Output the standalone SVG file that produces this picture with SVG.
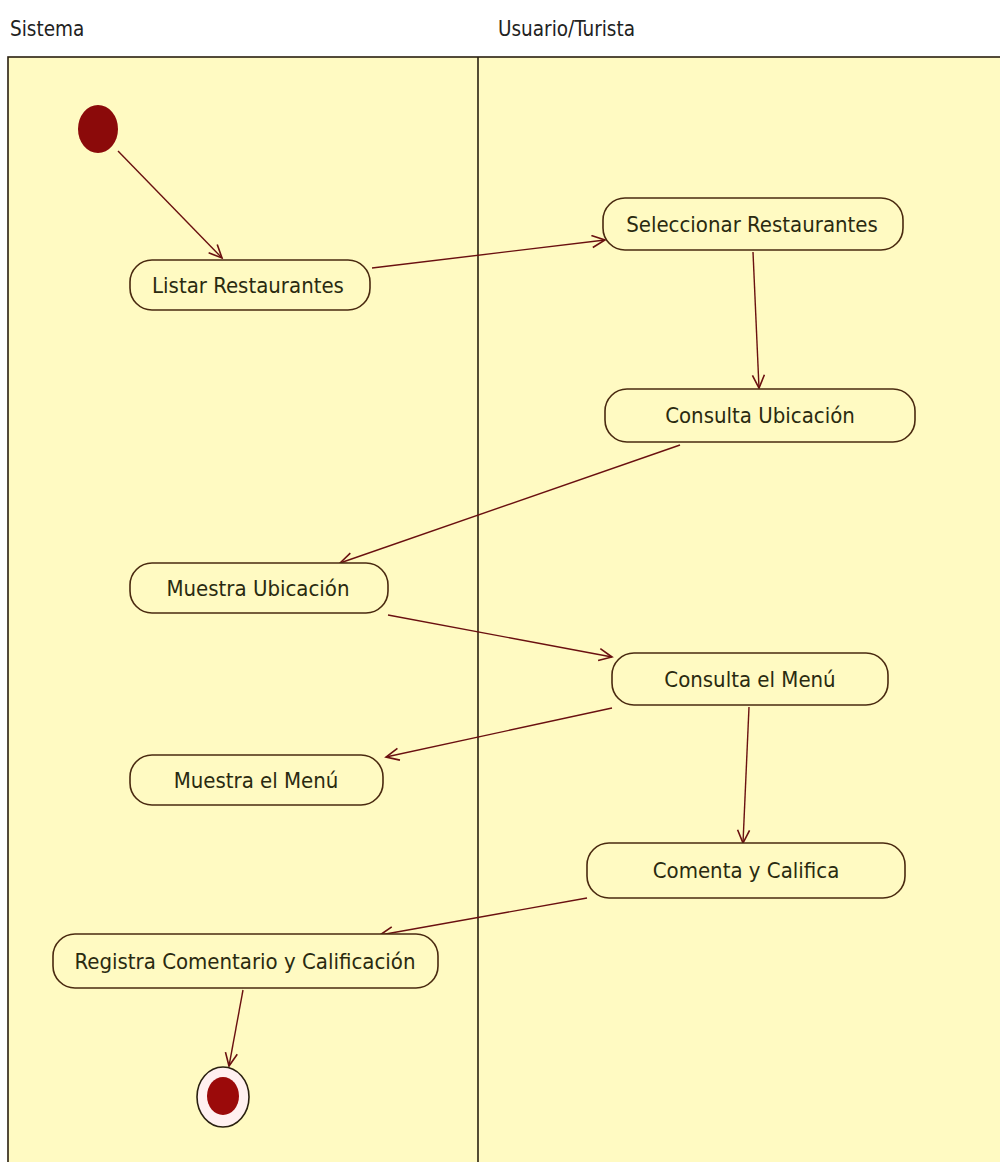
<svg xmlns="http://www.w3.org/2000/svg" width="1000" height="1162" viewBox="0 0 1000 1162">
<style>
.lbl{font-family:"DejaVu Sans Condensed","Liberation Sans",sans-serif;font-size:22px;fill:#2a2a10;text-anchor:middle;dominant-baseline:central}
.hdr{font-family:"DejaVu Sans Condensed","Liberation Sans",sans-serif;font-size:20.5px;fill:#222}
.act{fill:#FFFAC2;stroke:#4a2a10;stroke-width:1.6}
.edge{fill:none;stroke:#6a1010;stroke-width:1.4;marker-end:url(#arr)}
</style>
<defs>
<marker id="arr" markerUnits="userSpaceOnUse" markerWidth="20" markerHeight="20" refX="14" refY="7" orient="auto">
<path d="M1,1 L14,7 L1,13" fill="none" stroke="#6a1010" stroke-width="1.6"/>
</marker>
</defs>
<rect x="0" y="0" width="1000" height="1162" fill="#ffffff"/>
<g id="lanes">
<rect x="8" y="57" width="1000" height="1120" fill="#FFFAC2" stroke="#2a2010" stroke-width="1.6"/>
<line x1="478" y1="57" x2="478" y2="1162" stroke="#2a2010" stroke-width="1.6"/>
<text class="hdr" x="10" y="36">Sistema</text>
<text class="hdr" x="498" y="36">Usuario/Turista</text>
</g>
<g id="connectors">
<line class="edge" x1="118" y1="151" x2="222" y2="258"/>
<line class="edge" x1="372" y1="268" x2="605" y2="240"/>
<line class="edge" x1="753" y1="252" x2="759" y2="388"/>
<line class="edge" x1="680" y1="445" x2="340" y2="563"/>
<line class="edge" x1="388" y1="615" x2="612" y2="657"/>
<line class="edge" x1="612" y1="708" x2="386" y2="757"/>
<line class="edge" x1="749" y1="707" x2="743" y2="843"/>
<line class="edge" x1="587" y1="898" x2="380" y2="935"/>
<line class="edge" x1="243" y1="990" x2="229" y2="1066"/>
</g>
<g id="start"><ellipse cx="98" cy="129" rx="20" ry="24" fill="#8B0A0A"/></g>
<g id="listar"><rect class="act" x="130" y="260" width="240" height="50" rx="22"/><text class="lbl" x="248" y="285">Listar Restaurantes</text></g>
<g id="seleccionar"><rect class="act" x="603" y="198" width="300" height="52" rx="22"/><text class="lbl" x="752" y="224">Seleccionar Restaurantes</text></g>
<g id="consultaUbicacion"><rect class="act" x="605" y="389" width="310" height="53" rx="22"/><text class="lbl" x="760" y="415">Consulta Ubicación</text></g>
<g id="muestraUbicacion"><rect class="act" x="130" y="563" width="258" height="50" rx="22"/><text class="lbl" x="258" y="588">Muestra Ubicación</text></g>
<g id="consultaMenu"><rect class="act" x="612" y="653" width="276" height="52" rx="22"/><text class="lbl" x="750" y="679">Consulta el Menú</text></g>
<g id="muestraMenu"><rect class="act" x="130" y="755" width="253" height="50" rx="22"/><text class="lbl" x="256" y="780">Muestra el Menú</text></g>
<g id="comenta"><rect class="act" x="587" y="843" width="318" height="55" rx="22"/><text class="lbl" x="746" y="870">Comenta y Califica</text></g>
<g id="registra"><rect class="act" x="53" y="934" width="385" height="54" rx="22"/><text class="lbl" x="245" y="961">Registra Comentario y Calificación</text></g>
<g id="end"><ellipse cx="223" cy="1097" rx="26" ry="30" fill="#FFF0F0" stroke="#2a2010" stroke-width="1.6"/><ellipse cx="223" cy="1096" rx="16" ry="19" fill="#9B0A0A"/></g>
</svg>
